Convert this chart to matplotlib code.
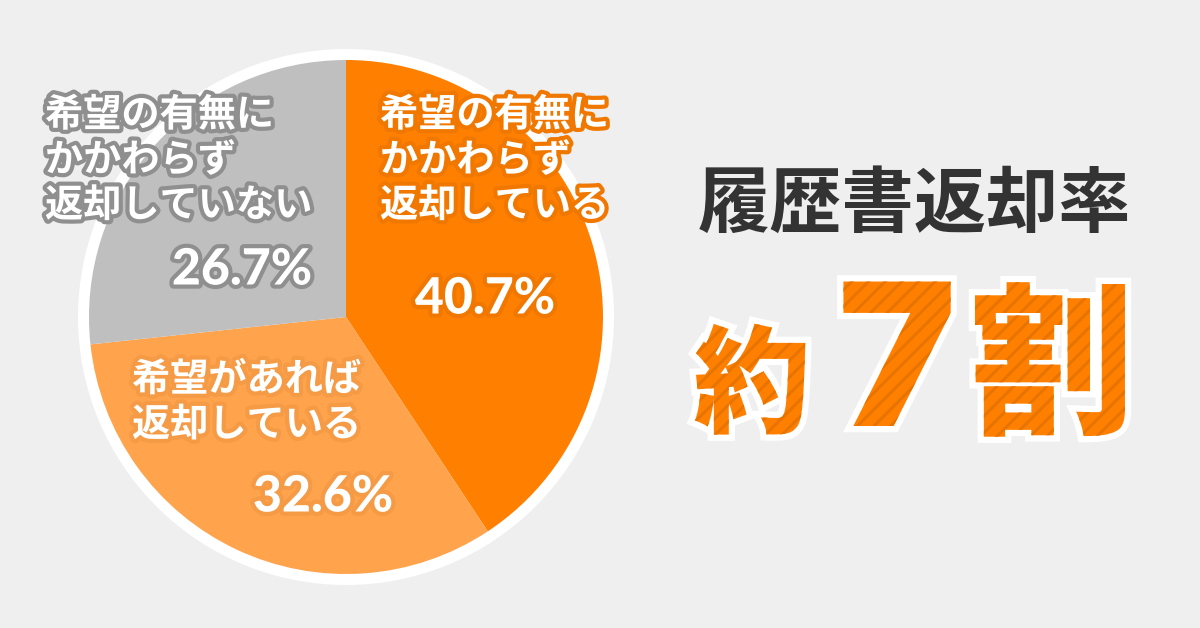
import matplotlib
matplotlib.use('Agg')
from matplotlib import pyplot as plt
from matplotlib import patheffects as pe
from matplotlib.patches import Circle

plt.rcParams['font.family'] = ['Noto Sans CJK JP', 'DejaVu Sans']
plt.rcParams['hatch.linewidth'] = 2.2

BG = '#efefef'
ORANGE = '#ff8000'
STRIPE = '#e87400'

shares = [40.7, 32.6, 26.7]
slice_colors = [ORANGE, '#ffa34d', '#bfbfbf']
slice_labels = ['希望の有無に\nかかわらず\n返却している',
                '希望があれば\n返却している',
                '希望の有無に\nかかわらず\n返却していない']
value_labels = ['40.7%', '32.6%', '26.7%']
stroke_colors = ['#f07800', '#f59a45', '#8f8f8f']
title = '履歴書返却率'
headline = ['約', '7', '割']

fig = plt.figure(figsize=(12, 6.28), dpi=100, facecolor=BG)
ax = fig.add_axes([0, 0, 1, 1])
ax.set_axis_off()

cx, cy = 346, 628 - 317
ax.add_patch(Circle((cx, cy), 268, fc='white', ec='none', zorder=0))
ax.pie(shares, colors=slice_colors, startangle=90, counterclock=False,
       center=(cx, cy), radius=257, wedgeprops={'linewidth': 0})
ax.set_xlim(0, 1200)
ax.set_ylim(0, 628)
ax.set_aspect('auto')


def label(x, y, s, size, stroke, ha='left', spacing=1.2, family=None, weight='bold'):
    ax.text(x, 628 - y, s, fontsize=size, color='white', fontweight=weight, ha=ha,
            va='center', linespacing=spacing, family=family,
            path_effects=[pe.withStroke(linewidth=6, foreground=stroke)])


# labels, one position per slice
label(380, 160, slice_labels[0], 27.5, stroke_colors[0])
label(132, 402, slice_labels[1], 27.5, stroke_colors[1])
label(45, 160, slice_labels[2], 27.5, stroke_colors[2])
label(485, 299, value_labels[0], 36, stroke_colors[0], ha='center', family=['Lato'], weight=900)
label(323, 497, value_labels[1], 36, stroke_colors[1], ha='center', family=['Lato'], weight=900)
label(242, 270, value_labels[2], 36, stroke_colors[2], ha='center', family=['Lato'], weight=900)

ax.text(914, 628 - 206, title, fontsize=52, color='#333333', fontweight='bold',
        ha='center', va='center')

effects = [pe.PathPatchEffect(edgecolor='white', linewidth=9, facecolor='white'),
           pe.PathPatchEffect(edgecolor=STRIPE, linewidth=0, facecolor=ORANGE, hatch='//')]
ax.text(752, 628 - 389, headline[0], fontsize=84, fontweight='black', color=ORANGE,
        ha='center', va='center', path_effects=effects)
ax.text(897, 628 - 374, headline[1], fontsize=143, fontweight=900, color=ORANGE,
        ha='center', va='center', path_effects=effects, family=['Inter'])
ax.text(1052, 628 - 372, headline[2], fontsize=118, fontweight='black', color=ORANGE,
        ha='center', va='center', path_effects=effects)

fig.savefig('out.png', dpi=100, facecolor=BG)
